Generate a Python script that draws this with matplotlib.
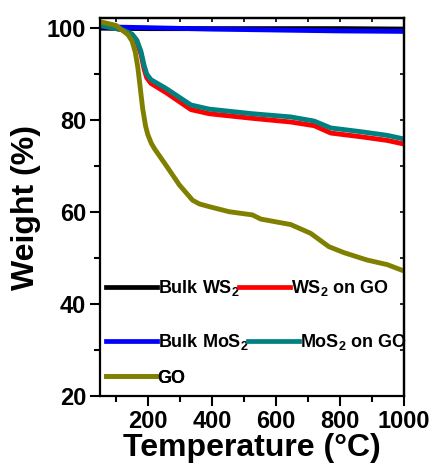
import matplotlib
matplotlib.use("Agg")
import matplotlib.pyplot as plt
from matplotlib.ticker import MultipleLocator
from matplotlib.lines import Line2D

plt.rcParams['font.family'] = ['Liberation Sans', 'DejaVu Sans']
plt.rcParams['font.weight'] = 'bold'
plt.rcParams['mathtext.fontset'] = 'custom'
plt.rcParams['mathtext.rm'] = 'Liberation Sans:bold'
plt.rcParams['mathtext.it'] = 'Liberation Sans:bold'
plt.rcParams['mathtext.bf'] = 'Liberation Sans:bold'
plt.rcParams['mathtext.default'] = 'rm'

# data
temp_bulk = [50, 200, 400, 600, 800, 1000]
bulk_ws2 = [100.0, 99.9, 99.9, 99.9, 99.9, 99.8]
bulk_mos2 = [100.3, 100.1, 99.8, 99.6, 99.4, 99.3]

temp_hyb = [50, 122, 150, 165, 178, 188, 196, 209, 256, 334, 391, 526, 646, 719, 771, 864, 947, 1000]
ws2_go = [100.6, 99.6, 98.6, 97.0, 94.3, 91.0, 89.2, 88.0, 86.0, 82.3, 81.4, 80.4, 79.6, 78.8, 77.2, 76.4, 75.6, 74.8]
mos2_go = [100.6, 99.6, 98.7, 97.4, 94.9, 91.8, 90.0, 88.8, 86.9, 83.3, 82.4, 81.4, 80.7, 79.8, 78.3, 77.5, 76.7, 75.9]

temp_go = [50, 100, 137, 150, 160, 168, 176, 183, 192, 199, 210, 220, 256, 298, 339, 360, 391, 453, 526, 552, 646, 708, 765, 812, 884, 947, 1000]
go = [101.4, 100.6, 98.6, 97.2, 94.8, 91.5, 86.8, 82.6, 78.8, 76.9, 75.0, 73.8, 70.2, 65.9, 62.6, 61.8, 61.2, 60.1, 59.4, 58.5, 57.3, 55.4, 52.5, 51.2, 49.6, 48.6, 47.2]

fig = plt.figure(figsize=(4.35, 4.75), dpi=100)
ax = fig.add_axes([0.230, 0.166, 0.699, 0.796])

lw = 3.5
style = dict(lw=lw, solid_joinstyle='round', solid_capstyle='butt')
ax.plot(temp_bulk, bulk_ws2, color='black', **style)
ax.plot(temp_hyb, ws2_go, color='#FF0000', **style)
ax.plot(temp_bulk, bulk_mos2, color='#0000FF', **style)
ax.plot(temp_hyb, mos2_go, color='#008080', **style)
ax.plot(temp_go, go, color='#808000', **style)

ax.set_xlim(50, 1000)
ax.set_ylim(20, 102.2)
ax.xaxis.set_major_locator(MultipleLocator(200))
ax.xaxis.set_minor_locator(MultipleLocator(100))
ax.yaxis.set_major_locator(MultipleLocator(20))
ax.yaxis.set_minor_locator(MultipleLocator(10))
ax.tick_params(which='major', direction='out', length=7, width=1.5, labelsize=17, pad=3)
ax.tick_params(which='minor', direction='out', length=4, width=1.5)
for lab in ax.get_xticklabels() + ax.get_yticklabels():
    lab.set_fontweight('bold')
for sp in ax.spines.values():
    sp.set_linewidth(1.6)

# inward ticks on top and right
top = ax.secondary_xaxis('top')
top.xaxis.set_major_locator(MultipleLocator(200))
top.xaxis.set_minor_locator(MultipleLocator(100))
top.tick_params(which='both', direction='in', length=3, width=1.2, labeltop=False)
top.spines['top'].set_linewidth(1.6)
right = ax.secondary_yaxis('right')
right.yaxis.set_major_locator(MultipleLocator(20))
right.yaxis.set_minor_locator(MultipleLocator(10))
right.tick_params(which='both', direction='in', length=3, width=1.2, labelright=False)
right.spines['right'].set_linewidth(1.6)

ax.set_xlabel('Temperature (°C)', fontsize=23, fontweight='bold', labelpad=0)
ax.set_ylabel('Weight (%)', fontsize=23, fontweight='bold', labelpad=4)

# legend rows, each its own legend like the original
rows = [
    (['black', '#FF0000'], ['Bulk WS$_2$', 'WS$_2$ on GO'], 0.286),
    (['#0000FF', '#008080'], ['Bulk MoS$_2$', 'MoS$_2$ on GO'], 0.143),
    (['#808000'], ['GO'], 0.048),
]
for colors, labels, ypos in rows:
    handles = [Line2D([], [], color=c, lw=3.4) for c in colors]
    leg = ax.legend(handles, labels, loc='center left', bbox_to_anchor=(0.02, ypos),
                    ncol=2, frameon=False, fontsize=13, handlelength=2.8,
                    handletextpad=0.05, columnspacing=0.0, borderpad=0, borderaxespad=0)
    for t in leg.get_texts():
        t.set_fontweight('bold')
    ax.add_artist(leg)

plt.savefig('out.png', dpi=100)
plt.close()
